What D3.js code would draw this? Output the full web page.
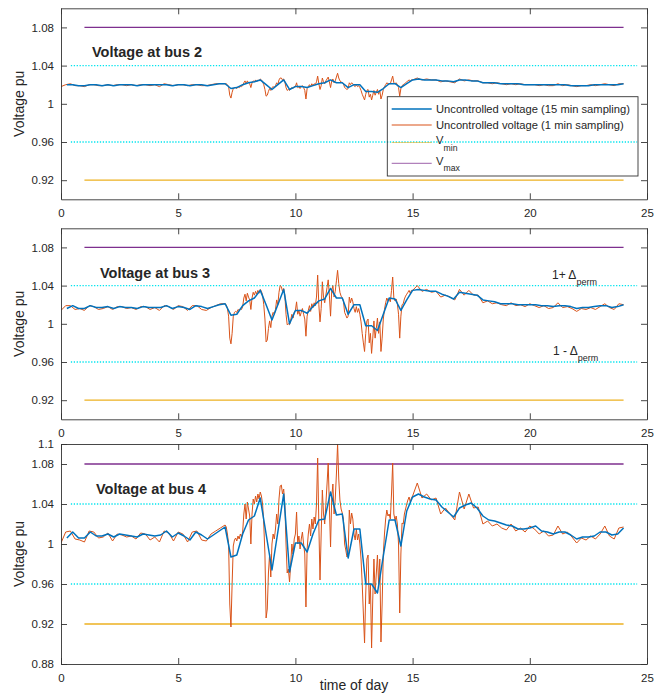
<!DOCTYPE html>
<html><head><meta charset="utf-8">
<script src="https://cdn.jsdelivr.net/npm/d3@7"></script>
<style>
body{margin:0;background:#fff}
text{font-family:"Liberation Sans",Arial,Helvetica,sans-serif;fill:#262626}
</style>
</head><body><svg id="c" width="664" height="693"></svg>
<script>
// ---------------- DATA ----------------
const xTicks = [0, 5, 10, 15, 20, 25];
const yTicksTop = [0.92, 0.96, 1, 1.04, 1.08];
const yTicksBottom = [0.88, 0.92, 0.96, 1, 1.04, 1.08, 1.1];
const titles = ["Voltage at bus 2", "Voltage at bus 3", "Voltage at bus 4"];
const legendLabels = ["Uncontrolled voltage (15 min sampling)", "Uncontrolled voltage (1 min sampling)", "V", "V"];
const legendSubs = ["", "", "min", "max"];
const vMin = 0.92, vMax = 1.08, permUp = 1.04, permDown = 0.96;
const limitSpan = [1, 24];
const permSpan = [0.42, 24.58];

// 15-min sample instants (h) and 1-min record instants (h) used for the plotted points
const blueT = d3.range(1, 97).map(i => i * 0.25);
const orangeT = [
  ...d3.range(0, 35).map(i => i * 0.2),
  ...d3.range(0, 160).map(i => 7 + i * 0.05),
  ...d3.range(0, 46).map(i => 15 + i * 0.2)
];

// 15 min sampling, bus 2 (t = 0.25 ... 24)
const bus2Blue = [
1.020,1.020,1.019,1.019, 1.020,1.020,1.019,1.020, 1.019,1.020,1.020,1.020, 1.019,1.020,1.020,1.020,
1.020,1.020,1.019,1.020, 1.020,1.019,1.020,1.020, 1.019,1.020,1.021,1.021, 1.016,1.017,1.020,1.022,
1.023,1.025,1.020,1.015, 1.020,1.025,1.015,1.018, 1.018,1.017,1.019,1.021, 1.022,1.025,1.022,1.022,
1.017,1.020,1.020,1.013, 1.013,1.012,1.016,1.021, 1.021,1.017,1.021,1.025, 1.026,1.025,1.025,1.025,
1.024,1.024,1.023,1.025, 1.025,1.024,1.024,1.022, 1.022,1.022,1.021,1.021, 1.021,1.021,1.020,1.020,
1.020,1.020,1.020,1.020, 1.020,1.020,1.019,1.019, 1.019,1.019,1.020,1.020, 1.020,1.020,1.020,1.021];
const bus3Blue = [
1.016,1.019,1.016,1.016, 1.019,1.017,1.017,1.018, 1.016,1.018,1.017,1.017, 1.016,1.018,1.017,1.017,
1.017,1.019,1.016,1.018, 1.017,1.015,1.019,1.018, 1.016,1.018,1.020,1.021, 1.009,1.010,1.019,1.024,
1.027,1.035,1.020,1.004, 1.020,1.036,1.000,1.014, 1.014,1.011,1.018,1.024, 1.026,1.037,1.027,1.027,
1.010,1.020,1.020,0.998, 0.998,0.993,1.010,1.027, 1.026,1.014,1.025,1.035, 1.036,1.035,1.034,1.034,
1.031,1.029,1.026,1.033, 1.032,1.031,1.030,1.025, 1.024,1.023,1.021,1.021, 1.021,1.020,1.020,1.020,
1.020,1.019,1.019,1.018, 1.019,1.019,1.018,1.016, 1.017,1.017,1.018,1.019, 1.019,1.017,1.018,1.020];
const bus4Blue = [
1.006,1.012,1.006,1.006, 1.012,1.008,1.008,1.010, 1.007,1.010,1.009,1.008, 1.007,1.010,1.009,1.008,
1.009,1.013,1.007,1.011, 1.008,1.004,1.012,1.009, 1.005,1.009,1.013,1.017, 0.987,0.989,1.010,1.024,
1.028,1.046,1.010,0.974, 1.012,1.050,0.972,1.001, 1.001,0.992,1.010,1.024, 1.025,1.052,1.029,1.030,
0.986,1.015,1.015,0.960, 0.960,0.951,0.988,1.024, 1.024,0.998,1.033,1.047, 1.050,1.047,1.045,1.044,
1.037,1.032,1.027,1.036, 1.039,1.041,1.036,1.028, 1.024,1.023,1.021,1.019, 1.018,1.015,1.015,1.016,
1.018,1.013,1.012,1.010, 1.012,1.012,1.009,1.005, 1.007,1.007,1.008,1.012, 1.012,1.009,1.010,1.016];

// 1 min sampling, bus 2
const bus2Orange = [
1.018,1.020,1.021,1.019,1.019, 1.018,1.020,1.020,1.019,1.019, 1.020,1.019,1.020,1.020,1.019,
1.020,1.019,1.020,1.020,1.019, 1.020,1.018,1.021,1.020,1.019, 1.020,1.020,1.019,1.020,1.020,
1.019,1.019,1.020,1.021,1.021,
1.021,1.021,1.020,1.018,1.009,1.006,1.012,1.016,1.017,1.017,1.016,1.018,1.017,1.018,1.018,1.019,1.022,1.024,1.021,1.024,
1.022,1.021,1.017,1.022,1.024,1.023,1.025,1.023,1.025,1.024,1.026,1.025,1.023,1.020,1.015,1.008,1.009,1.013,1.016,1.014,
1.017,1.018,1.017,1.019,1.022,1.020,1.025,1.027,1.027,1.025,1.026,1.023,1.017,1.014,1.015,1.014,1.016,1.017,1.016,1.018,
1.018,1.022,1.017,1.018,1.016,1.018,1.019,1.017,1.014,1.005,1.016,1.018,1.020,1.018,1.021,1.019,1.021,1.020,1.023,1.029,
1.021,1.015,1.019,1.027,1.023,1.021,1.024,1.026,1.028,1.023,1.017,1.024,1.026,1.022,1.024,1.028,1.032,1.027,1.024,1.023,
1.022,1.021,1.017,1.016,1.015,1.016,1.022,1.020,1.022,1.021,1.019,1.018,1.020,1.018,1.019,1.017,1.014,1.010,1.007,1.004,
1.010,1.014,1.015,1.007,1.010,1.004,1.009,1.014,1.009,1.012,1.015,1.010,1.014,1.005,1.009,1.015,1.018,1.020,1.022,1.021,
1.021,1.021,1.025,1.029,1.022,1.021,1.022,1.020,1.017,1.008,1.016,1.019,1.020,1.021,1.022,1.023,1.024,1.025,1.024,1.025,
1.025,1.027,1.025,1.026,1.025, 1.025,1.023,1.024,1.023,1.022, 1.026,1.024,1.025,1.024,1.024,
1.022,1.022,1.021,1.022,1.021, 1.020,1.021,1.020,1.021,1.020, 1.020,1.020,1.019,1.020,1.019,
1.019,1.021,1.019,1.020,1.019, 1.018,1.019,1.019,1.020,1.019, 1.020,1.021,1.020,1.019,1.021,
1.021];
// 1 min sampling, bus 3
const bus3Orange = [
1.014,1.019,1.019,1.015,1.016, 1.014,1.019,1.018,1.015,1.016, 1.018,1.015,1.018,1.018,1.016,
1.017,1.015,1.018,1.018,1.015, 1.017,1.014,1.019,1.018,1.015, 1.019,1.018,1.014,1.019,1.019,
1.015,1.014,1.017,1.019,1.021,
1.021,1.020,1.016,1.008,0.985,0.979,0.990,1.008,1.012,1.013,1.012,1.015,1.014,1.016,1.015,1.018,1.027,1.031,1.024,1.032,
1.028,1.025,1.015,1.027,1.033,1.030,1.034,1.031,1.035,1.032,1.036,1.034,1.030,1.020,1.005,0.981,0.983,0.995,1.003,0.996,
1.008,1.012,1.010,1.015,1.025,1.020,1.033,1.040,1.039,1.034,1.037,1.030,1.010,0.999,1.000,0.999,1.004,1.010,1.006,1.012,
1.014,1.023,1.010,1.014,1.008,1.012,1.016,1.010,1.005,0.987,1.008,1.014,1.019,1.013,1.021,1.017,1.022,1.019,1.028,1.051,
1.020,1.002,1.016,1.044,1.028,1.022,1.030,1.038,1.046,1.030,1.008,1.035,1.040,1.028,1.034,1.045,1.056,1.042,1.033,1.029,
1.027,1.024,1.012,1.009,1.006,1.008,1.028,1.022,1.027,1.023,1.016,1.012,1.018,1.012,1.016,1.010,1.002,0.990,0.980,0.971,
0.990,1.003,1.005,0.980,0.990,0.969,0.985,1.003,0.985,0.995,1.006,0.990,1.002,0.971,0.985,1.005,1.015,1.022,1.027,1.024,
1.026,1.023,1.035,1.049,1.027,1.024,1.026,1.021,1.010,0.985,1.008,1.020,1.021,1.026,1.029,1.031,1.033,1.035,1.032,1.035,
1.035,1.040,1.034,1.036,1.033, 1.034,1.028,1.030,1.028,1.025, 1.036,1.030,1.035,1.030,1.030,
1.022,1.024,1.021,1.022,1.020, 1.019,1.022,1.019,1.020,1.018, 1.021,1.019,1.017,1.019,1.016,
1.017,1.022,1.017,1.018,1.016, 1.013,1.016,1.015,1.017,1.015, 1.018,1.021,1.017,1.015,1.021,
1.020];
// 1 min sampling, bus 4
const bus4Orange = [
1.001,1.012,1.013,1.005,1.004, 1.002,1.013,1.012,1.006,1.007, 1.011,1.003,1.010,1.009,1.007,
1.008,1.005,1.011,1.010,1.004, 1.007,1.002,1.013,1.011,1.003, 1.012,1.010,1.002,1.012,1.013,
1.004,1.003,1.010,1.013,1.016,
1.019,1.017,1.010,1.000,0.940,0.917,0.960,0.998,1.004,1.006,1.003,1.008,1.005,1.010,1.007,1.012,1.030,1.040,1.025,1.042,
1.035,1.028,1.000,1.030,1.045,1.040,1.048,1.042,1.050,1.045,1.052,1.048,1.040,1.020,0.990,0.926,0.935,0.971,0.990,0.967,
1.000,1.010,1.005,1.015,1.030,1.020,1.045,1.058,1.059,1.050,1.055,1.040,1.000,0.971,0.975,0.962,0.980,1.000,0.990,1.005,
1.010,1.032,1.000,1.008,0.995,1.005,1.012,1.000,0.990,0.937,0.995,1.010,1.020,1.008,1.025,1.015,1.027,1.020,1.040,1.086,
1.020,0.964,1.010,1.054,1.030,1.020,1.040,1.060,1.081,1.037,0.997,1.047,1.060,1.030,1.045,1.070,1.100,1.065,1.044,1.035,
1.031,1.025,1.000,0.994,0.987,0.990,1.034,1.020,1.031,1.025,1.010,1.004,1.015,1.004,1.010,1.000,0.985,0.960,0.930,0.901,
0.950,0.985,0.989,0.940,0.960,0.896,0.945,0.985,0.950,0.970,0.989,0.960,0.985,0.902,0.940,0.990,1.010,1.025,1.034,1.028,
1.030,1.025,1.050,1.081,1.030,1.024,1.028,1.020,1.000,0.931,0.990,1.021,1.020,1.030,1.035,1.040,1.044,1.047,1.042,1.046,
1.048,1.061,1.046,1.050,1.044, 1.046,1.030,1.036,1.030,1.024, 1.052,1.035,1.050,1.036,1.037,
1.020,1.023,1.018,1.020,1.016, 1.014,1.020,1.013,1.016,1.012, 1.018,1.015,1.010,1.013,1.008,
1.009,1.018,1.010,1.012,1.007, 1.001,1.006,1.004,1.008,1.005, 1.010,1.018,1.008,1.005,1.016,
1.017];

const blueSeries = [bus2Blue, bus3Blue, bus4Blue];
const orangeSeries = [bus2Orange, bus3Orange, bus4Orange];

// ---------------- LAYOUT / STYLE ----------------
const C = {blue:"#0072BD", orange:"#D95319", yellow:"#EDB120", purple:"#7E2F8E", cyan:"#00E5EE", axis:"#333333"};
const L = 61, R = 647;
const panels = [
  {top: 8.3, bottom: 199.3, dom: [0.9, 1.1], ticks: yTicksTop, tx: 92, ty: 57},
  {top: 228.3, bottom: 419.3, dom: [0.9, 1.1], ticks: yTicksTop, tx: 100, ty: 278},
  {top: 444, bottom: 664, dom: [0.88, 1.1], ticks: yTicksBottom, tx: 96, ty: 494}
];

const svg = d3.select("#c");
const x = d3.scaleLinear().domain([0, 25]).range([L, R]);

panels.forEach((p, i) => {
  const y = d3.scaleLinear().domain(p.dom).range([p.bottom, p.top]);
  const g = svg.append("g");
  const clipId = "clip" + i;
  svg.append("clipPath").attr("id", clipId).append("rect")
    .attr("x", L).attr("y", p.top).attr("width", R - L).attr("height", p.bottom - p.top);
  const pg = g.append("g").attr("clip-path", `url(#${clipId})`);

  // permissible band (dotted cyan)
  [permUp, permDown].forEach(v => {
    pg.append("line").attr("x1", x(permSpan[0])).attr("x2", x(permSpan[1]))
      .attr("y1", y(v)).attr("y2", y(v))
      .attr("stroke", C.cyan).attr("stroke-width", 1.3).attr("stroke-dasharray", "1.3,1.6");
  });
  // limits
  pg.append("line").attr("x1", x(limitSpan[0])).attr("x2", x(limitSpan[1]))
    .attr("y1", y(vMin)).attr("y2", y(vMin)).attr("stroke", C.yellow).attr("stroke-width", 1.3);
  pg.append("line").attr("x1", x(limitSpan[0])).attr("x2", x(limitSpan[1]))
    .attr("y1", y(vMax)).attr("y2", y(vMax)).attr("stroke", C.purple).attr("stroke-width", 1.3);

  const line = d3.line().x(d => x(d[0])).y(d => y(d[1]));
  pg.append("path").datum(orangeT.map((t, k) => [t, orangeSeries[i][k]]))
    .attr("d", line).attr("fill", "none").attr("stroke", C.orange).attr("stroke-width", 1)
    .attr("stroke-linejoin", "round");
  pg.append("path").datum(blueT.map((t, k) => [t, blueSeries[i][k]]))
    .attr("d", line).attr("fill", "none").attr("stroke", C.blue).attr("stroke-width", 1.5)
    .attr("stroke-linejoin", "round");

  // axes (box with inward ticks)
  const styleAxis = sel => {
    sel.selectAll(".domain").attr("stroke", C.axis).attr("stroke-width", 0.9);
    sel.selectAll(".tick line").attr("stroke", C.axis).attr("stroke-width", 0.9);
    sel.selectAll("text").attr("font-size", 11.5).attr("fill", "#262626")
      .attr("font-family", '"Liberation Sans",Arial,Helvetica,sans-serif');
  };
  g.append("g").attr("transform", `translate(0,${p.bottom})`)
    .call(d3.axisBottom(x).tickValues(xTicks).tickSize(-6).tickSizeOuter(0).tickPadding(10).tickFormat(d3.format("d")))
    .call(styleAxis);
  g.append("g").attr("transform", `translate(0,${p.top})`)
    .call(d3.axisTop(x).tickValues(xTicks).tickSize(-6).tickSizeOuter(0).tickFormat(""))
    .call(styleAxis);
  g.append("g").attr("transform", `translate(${L},0)`)
    .call(d3.axisLeft(y).tickValues(p.ticks).tickSize(-6).tickSizeOuter(0).tickPadding(7).tickFormat(d => String(d)))
    .call(styleAxis);
  g.append("g").attr("transform", `translate(${R},0)`)
    .call(d3.axisRight(y).tickValues(p.ticks).tickSize(-6).tickSizeOuter(0).tickFormat(""))
    .call(styleAxis);

  // y label
  g.append("text").attr("transform", `translate(19,${(p.top + p.bottom) / 2}) rotate(-90)`)
    .attr("text-anchor", "middle").attr("dy", "0.35em").attr("font-size", 14).text("Voltage pu");

  // title
  g.append("text").attr("x", p.tx).attr("y", p.ty).attr("font-size", 14.5).attr("font-weight", "bold")
    .attr("fill", "#000").text(titles[i]);

  if (i === 1) {
    const a1 = g.append("text").attr("x", 552).attr("y", 279).attr("font-size", 12);
    a1.append("tspan").text("1+ \u0394");
    a1.append("tspan").attr("dy", 6).attr("font-size", 9).text("perm");
    const a2 = g.append("text").attr("x", 553).attr("y", 355).attr("font-size", 12);
    a2.append("tspan").text("1 - \u0394");
    a2.append("tspan").attr("dy", 6).attr("font-size", 9).text("perm");
  }

  if (i === 0) {
    const lg = g.append("g");
    lg.append("rect").attr("x", 387.3).attr("y", 96.7).attr("width", 250.7).attr("height", 79.3)
      .attr("fill", "none").attr("stroke", C.axis).attr("stroke-width", 0.9);
    const cols = [C.blue, C.orange, C.yellow, C.purple];
    const rowsY = [109, 125, 142.5, 163.3];
    legendLabels.forEach((lab, k) => {
      lg.append("line").attr("x1", 391.7).attr("x2", 431.7).attr("y1", rowsY[k]).attr("y2", rowsY[k])
        .attr("stroke", cols[k]).attr("stroke-width", k === 0 ? 1.5 : 1.2).attr("opacity", k >= 2 ? 0.6 : 1);
      const t = lg.append("text").attr("x", 436).attr("y", k < 2 ? rowsY[k] + 4 : rowsY[k] + 1.5)
        .attr("font-size", 11.2);
      t.append("tspan").text(lab);
      if (legendSubs[k]) t.append("tspan").attr("dy", 6.5).attr("font-size", 8.7).text(legendSubs[k]);
    });
  }
});

svg.append("text").attr("x", 354).attr("y", 690).attr("text-anchor", "middle")
  .attr("font-size", 14).text("time of day");
</script>
</body></html>
